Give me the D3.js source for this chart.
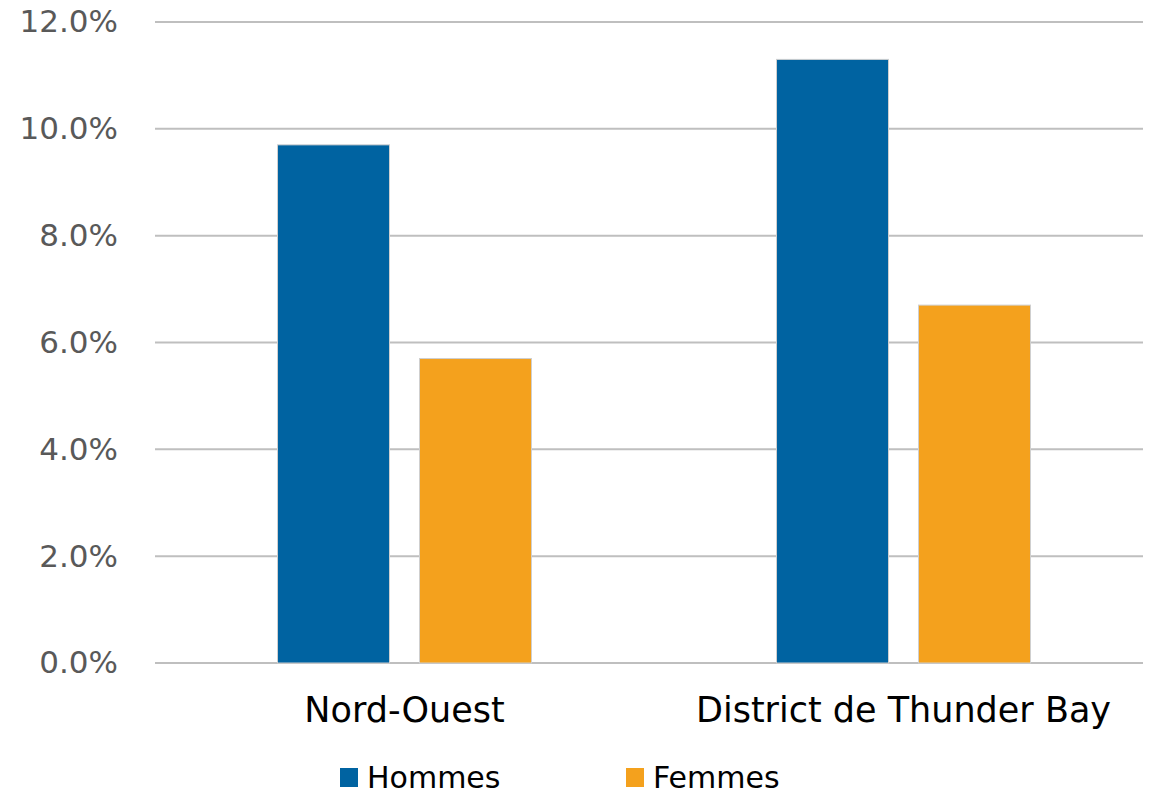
<!DOCTYPE html>
<html><head><meta charset="utf-8">
<script src="https://cdn.jsdelivr.net/npm/d3@7"></script>
<style>body{margin:0;background:#fff}svg{display:block}text{font-family:"DejaVu Sans",sans-serif}</style>
</head><body><svg id="c" width="1163" height="795"></svg>
<script>
const categories = ["Nord-Ouest", "District de Thunder Bay"];
const series = ["Hommes", "Femmes"];
const hommes = [0.097, 0.113];
const femmes = [0.057, 0.067];
const colors = ["#0063a1", "#f4a11d"];
const yTicks = [0, 0.02, 0.04, 0.06, 0.08, 0.10, 0.12];

const values = [hommes, femmes];
const svg = d3.select("#c");
const y = d3.scaleLinear().domain([0, 0.12]).range([663, 22]);
const x0 = d3.scaleBand().domain(categories).range([155, 1153]).paddingInner(0.491).paddingOuter(0.2455);
const x1 = d3.scaleBand().domain(series).range([0, x0.bandwidth()]).paddingInner(30/142);

// gridlines
svg.append("g").selectAll("line").data(yTicks).join("line")
  .attr("x1", 155).attr("x2", 1143)
  .attr("y1", d => y(d)).attr("y2", d => y(d))
  .attr("stroke", "#bfbfbf").attr("stroke-width", 2);

// y axis labels
const yAxis = d3.axisLeft(y).tickValues(yTicks).tickFormat(d3.format(".1%")).tickSize(0).tickPadding(37);
const ga = svg.append("g").attr("transform", "translate(155,0)").call(yAxis);
ga.select(".domain").remove();
ga.selectAll("text").attr("font-size", 31).attr("fill", "#595959").attr("font-family", "DejaVu Sans");

// bars
categories.forEach((c, i) => {
  svg.append("g").selectAll("rect").data(series).join("rect")
    .attr("x", s => x0(c) + x1(s))
    .attr("width", x1.bandwidth())
    .attr("y", (s, j) => y(values[j][i]))
    .attr("height", (s, j) => y(0) - y(values[j][i]))
    .attr("fill", (s, j) => colors[j])
    .attr("stroke", "#cfcfcf").attr("stroke-width", 1);
});

// x axis labels
const xAxis = d3.axisBottom(x0).tickSize(0).tickPadding(0);
const gx = svg.append("g").attr("transform", "translate(0,663)").call(xAxis);
gx.select(".domain").remove();
gx.selectAll("text").attr("font-size", 35).attr("fill", "#000").attr("font-family", "DejaVu Sans")
  .attr("dy", null).attr("y", 59);

// legend
const legX = [340, 626];
series.forEach((s, j) => {
  const g = svg.append("g");
  g.append("rect").attr("x", legX[j]).attr("y", 768).attr("width", 18).attr("height", 19).attr("fill", colors[j]);
  g.append("text").attr("x", legX[j] + 27).attr("y", 788).attr("font-size", 30).attr("fill", "#000").text(s);
});
</script></body></html>
